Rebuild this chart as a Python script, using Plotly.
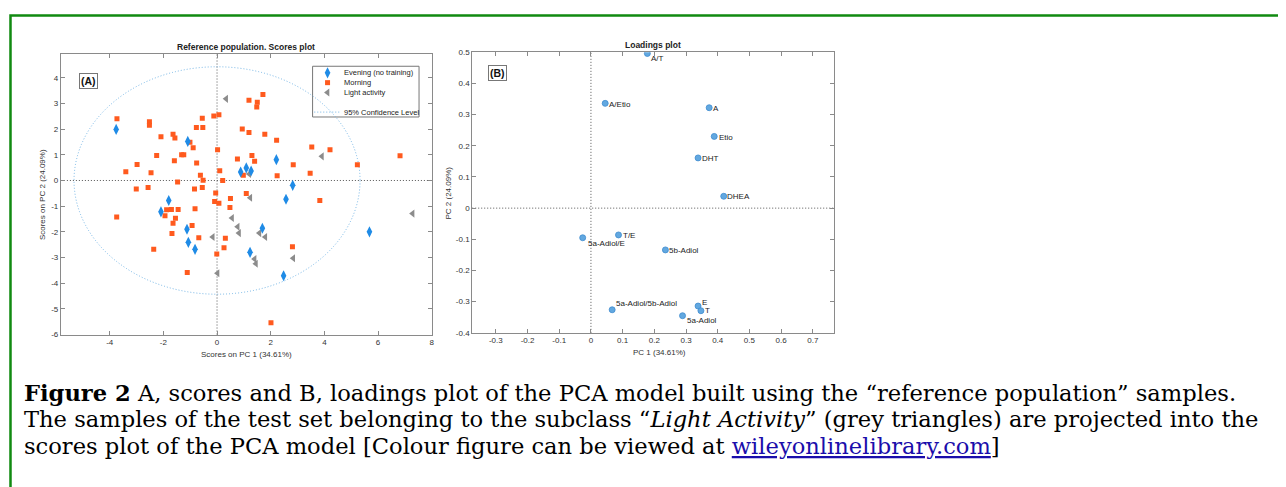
import plotly.graph_objects as go

# page is rendered inside the default 8px body margin
OFF = 8
FW, FH = 1278, 479

# ---------------- Scores plot data (PC1, PC2) ----------------
evening_pc1 = [-3.76, -1.09, -1.80, -2.09, -1.12, -1.07, -0.82, 0.88, 1.09, 1.27,
               2.21, 2.82, 2.57, 1.69, 1.23, 2.48, 5.68]
evening_pc2 = [1.99, 1.52, -0.78, -1.22, -1.90, -2.41, -2.68, 0.33, 0.49, 0.37,
               0.81, -0.19, -0.73, -1.86, -2.80, -3.71, -2.00]

morning_pc1 = [-3.73, -2.52, -2.52, -2.09, -1.64, -1.57, -1.01, -0.89, -0.77, -0.55,
               -0.53, -0.12, 0.07, 0.02, -2.25, -1.32, -1.24, -1.59, -0.76, -2.98,
               -3.40, -2.46, -0.62, -0.52, -1.47, 0.10, 0.21, -3.01, -2.57, -0.84,
               -0.55, -0.05, -0.09, 0.07, 0.50, 0.48, -3.74, -1.88, -1.70, -1.45,
               -0.82, -1.94, -1.55, -1.64, -1.68, -0.93, -0.68, 0.31, 0.26, -0.01,
               -2.36, -1.11, 2.01, 0.94, 1.19, 1.50, 1.71, 1.48, 1.19, 1.78,
               2.22, 0.76, 1.30, 1.40, 0.98, 2.24, 2.84, 1.09, 3.53, 4.21,
               3.47, 5.23, 6.82, 3.83, 2.81]
morning_pc2 = [2.41, 2.29, 2.15, 1.70, 1.80, 1.66, 1.49, 1.28, 2.06, 2.42,
               2.06, 2.51, 2.56, 1.20, 0.97, 1.00, 1.00, 0.77, 0.68, 0.62,
               0.34, 0.30, 0.20, 0.01, -0.06, 0.38, 0.00, -0.33, -0.27, -0.33,
               -0.27, -0.49, -0.82, -0.89, -0.70, -1.05, -1.42, -1.14, -1.13, -1.13,
               -1.10, -1.37, -1.47, -1.67, -2.06, -1.75, -2.23, -2.25, -2.62, -2.86,
               -2.68, -3.58, -5.54, 2.01, 3.13, 3.05, 3.35, 2.86, 1.87, 1.80,
               1.57, 0.84, 0.97, 0.75, 0.20, 0.18, 0.61, -0.51, 1.30, 1.20,
               0.28, 0.61, 0.96, -0.78, -2.58]

light_pc1 = [0.34, 3.91, 1.20, 1.24, 0.56, 0.77, 0.82, -0.16, 1.58, 1.80,
             1.40, 1.45, 2.84, 0.02, 7.29]
light_pc2 = [3.18, 0.94, 0.25, -0.67, -1.46, -1.80, -2.05, -2.20, -2.05, -2.20,
             -3.06, -3.24, -3.03, -3.61, -1.29]

conf_semi_pc1 = 5.33
conf_semi_pc2 = 4.43

# ---------------- Loadings plot data ----------------
loading_names = ["A/T", "A/Etio", "A", "Etio", "DHT", "DHEA", "T/E", "5a-Adiol/E",
                 "5b-Adiol", "5a-Adiol/5b-Adiol", "E", "T", "5a-Adiol"]
loading_pc1 = [0.178, 0.045, 0.373, 0.389, 0.338, 0.419, 0.087, -0.026,
               0.235, 0.067, 0.338, 0.347, 0.289]
loading_pc2 = [0.496, 0.336, 0.322, 0.230, 0.161, 0.038, -0.086, -0.095,
               -0.134, -0.326, -0.314, -0.329, -0.345]
# label offsets from the point, in pixels (right, down)
label_dx = [2.5, 3, 3, 3.5, 2.5, 2.5, 3, 4, 2.5, 2.5, 3, 3.5, 3]
label_dy = [5.5, 0.7, 1, 0.7, 0.5, 0.7, 0.3, 6, 0.3, -6.7, -4, 0, 4.5]

# ---------------- Tick labels ----------------
score_xticks = [-4, -2, 0, 2, 4, 6, 8]
score_xlabels = ["-4", "-2", "0", "2", "4", "6", "8"]
score_yticks = [-6, -5, -4, -3, -2, -1, 0, 1, 2, 3, 4]
score_ylabels = ["-6", "-5", "-4", "-3", "-2", "-1", "0", "1", "2", "3", "4"]
load_xticks = [-0.3, -0.2, -0.1, 0, 0.1, 0.2, 0.3, 0.4, 0.5, 0.6, 0.7]
load_xlabels = ["-0.3", "-0.2", "-0.1", "0", "0.1", "0.2", "0.3", "0.4", "0.5", "0.6", "0.7"]
load_yticks = [-0.4, -0.3, -0.2, -0.1, 0, 0.1, 0.2, 0.3, 0.4, 0.5]
load_ylabels = ["-0.4", "-0.3", "-0.2", "-0.1", "0", "0.1", "0.2", "0.3", "0.4", "0.5"]

legend_labels = ["Evening (no training)", "Morning", "Light activity", "95% Confidence Level"]

# ---------------- Styling ----------------
FONT = "Liberation Sans, Arial, sans-serif"
SERIF = "DejaVu Serif, Georgia, serif"
BLUE = "#1f8be6"
ORANGE = "#ff5a1e"
GREY = "#8c8c8c"
ELLIPSE = "#74b4e4"
AXC = "#8a8a8a"
FINE_DOT = "1px,2px"


def px(x):
    """page pixel x -> paper fraction"""
    return (x - OFF) / FW


def py(y):
    """page pixel y -> paper fraction"""
    return 1 - (y - OFF) / FH


fig = go.Figure()

# scores traces
fig.add_trace(go.Scatter(x=morning_pc1, y=morning_pc2, mode="markers", name=legend_labels[1],
                         marker=dict(symbol="square", size=5, color=ORANGE, line=dict(width=0)),
                         xaxis="x", yaxis="y", showlegend=False))
fig.add_trace(go.Scatter(x=light_pc1, y=light_pc2, mode="markers", name=legend_labels[2],
                         marker=dict(symbol="triangle-left", size=7, color=GREY, line=dict(width=0)),
                         xaxis="x", yaxis="y", showlegend=False))
fig.add_trace(go.Scatter(x=evening_pc1, y=evening_pc2, mode="markers", name=legend_labels[0],
                         marker=dict(symbol="diamond-tall", size=8, color=BLUE, line=dict(width=0)),
                         xaxis="x", yaxis="y", showlegend=False))

# loadings trace
fig.add_trace(go.Scatter(x=loading_pc1, y=loading_pc2, mode="markers", text=loading_names,
                         marker=dict(symbol="circle", size=6, color="#62a8e0",
                                     line=dict(width=0.8, color="#3f8ccf")),
                         xaxis="x2", yaxis="y2", showlegend=False))

# manual legend samples on a page-pixel overlay axis
leg_sym_x = 328.3
leg_rows = [70, 80, 90, 110]
fig.add_trace(go.Scatter(x=[leg_sym_x], y=[leg_rows[0]], mode="markers", xaxis="x3", yaxis="y3",
                         marker=dict(symbol="diamond-tall", size=8, color=BLUE), showlegend=False,
                         hoverinfo="skip"))
fig.add_trace(go.Scatter(x=[leg_sym_x], y=[leg_rows[1]], mode="markers", xaxis="x3", yaxis="y3",
                         marker=dict(symbol="square", size=5, color=ORANGE), showlegend=False,
                         hoverinfo="skip"))
fig.add_trace(go.Scatter(x=[leg_sym_x], y=[leg_rows[2]], mode="markers", xaxis="x3", yaxis="y3",
                         marker=dict(symbol="triangle-left", size=7, color=GREY), showlegend=False,
                         hoverinfo="skip"))
fig.add_trace(go.Scatter(x=[315, 340], y=[leg_rows[3], leg_rows[3]], mode="lines", xaxis="x3", yaxis="y3",
                         line=dict(color=ELLIPSE, width=1, dash=FINE_DOT), showlegend=False,
                         hoverinfo="skip"))

axis_common = dict(showline=True, linecolor=AXC, linewidth=1, mirror="ticks", ticks="inside",
                   ticklen=4, tickcolor=AXC, showgrid=False, zeroline=False,
                   tickfont=dict(family=FONT, size=8, color="#333"), fixedrange=True)

fig.update_layout(
    width=FW, height=FH,
    margin=dict(l=0, r=0, t=0, b=0),
    paper_bgcolor="white", plot_bgcolor="rgba(0,0,0,0)",
    showlegend=False,
    xaxis=dict(domain=[px(61), px(432.7)], range=[-5.82, 8], tickvals=score_xticks,
               ticktext=score_xlabels, anchor="y", **axis_common),
    yaxis=dict(domain=[py(336.7), py(51)], range=[-6, 4.92], tickvals=score_yticks,
               ticktext=score_ylabels, anchor="x", **axis_common),
    xaxis2=dict(domain=[px(473.3), px(835.5)], range=[-0.3746, 0.7655], tickvals=load_xticks,
                ticktext=load_xlabels, anchor="y2", **axis_common),
    yaxis2=dict(domain=[py(335), py(49)], range=[-0.4, 0.5], tickvals=load_yticks,
                ticktext=load_ylabels, anchor="x2", **axis_common),
    xaxis3=dict(domain=[0, 1], range=[OFF, OFF + FW], visible=False, anchor="y3", fixedrange=True),
    yaxis3=dict(domain=[0, 1], range=[OFF + FH, OFF], visible=False, anchor="x3", fixedrange=True),
)

shapes = []
# green frame
shapes.append(dict(type="rect", xref="paper", yref="paper", x0=px(10.5), x1=px(1300),
                   y0=py(500), y1=py(11.5), line=dict(color="#118a11", width=2.5),
                   fillcolor="rgba(0,0,0,0)", layer="below"))
# confidence ellipse
shapes.append(dict(type="circle", xref="x", yref="y", x0=-conf_semi_pc1, x1=conf_semi_pc1,
                   y0=-conf_semi_pc2, y1=conf_semi_pc2,
                   line=dict(color=ELLIPSE, width=1, dash=FINE_DOT), layer="below"))
# zero lines
for xr, yr in (("x", "y"), ("x2", "y2")):
    shapes.append(dict(type="line", xref=xr, yref=yr + " domain", x0=0, x1=0, y0=0, y1=1,
                       line=dict(color="#555", width=1, dash=FINE_DOT), layer="below"))
    shapes.append(dict(type="line", xref=xr + " domain", yref=yr, x0=0, x1=1, y0=0, y1=0,
                       line=dict(color="#555", width=1, dash=FINE_DOT), layer="below"))
# legend box
shapes.append(dict(type="rect", xref="paper", yref="paper", x0=px(313.3), x1=px(420),
                   y0=py(115), y1=py(63.3), line=dict(color="#777", width=1),
                   fillcolor="white", layer="below"))
fig.update_layout(shapes=shapes)

ann = []
# loading labels (placed at the data points)
for name, lx, ly, dx, dy in zip(loading_names, loading_pc1, loading_pc2, label_dx, label_dy):
    ann.append(dict(text=name, x=lx, y=ly, xref="x2", yref="y2", xanchor="left",
                    xshift=dx, yshift=-dy, borderpad=0,
                    font=dict(family=FONT, size=8, color="#222")))
# titles
ann.append(dict(text="<b>Reference population. Scores plot</b>", x=px(247), y=py(44),
                font=dict(family=FONT, size=8.5, color="#222")))
ann.append(dict(text="<b>Loadings plot</b>", x=px(655), y=py(42),
                font=dict(family=FONT, size=8.5, color="#222")))
# axis titles
ann.append(dict(text="Scores on PC 1 (34.61%)", x=px(247.5), y=py(357),
                font=dict(family=FONT, size=8, color="#333")))
ann.append(dict(text="Scores on PC 2 (24.09%)", x=px(42.7), y=py(194), textangle=-90,
                font=dict(family=FONT, size=8, color="#333")))
ann.append(dict(text="PC 1 (34.61%)", x=px(660.8), y=py(355),
                font=dict(family=FONT, size=8, color="#333")))
ann.append(dict(text="PC 2 (24.09%)", x=px(450), y=py(192), textangle=-90,
                font=dict(family=FONT, size=8, color="#333")))
# panel labels
ann.append(dict(text="<b>(A)</b>", x=px(88.3), y=py(78.3), bordercolor="#777", borderwidth=1,
                borderpad=1, bgcolor="white", font=dict(family=FONT, size=10.5, color="#111")))
ann.append(dict(text="<b>(B)</b>", x=px(498.8), y=py(70), bordercolor="#777", borderwidth=1,
                borderpad=1, bgcolor="white", font=dict(family=FONT, size=10.5, color="#111")))
# legend texts
for lab, ry in zip(legend_labels, leg_rows):
    ann.append(dict(text=lab, x=px(342.7), y=py(ry), xanchor="left",
                    font=dict(family=FONT, size=7.5, color="#222")))
# caption
cap = [
    "<b>Figure 2</b> A, scores and B, loadings plot of the PCA model built using the “reference population” samples.",
    "The samples of the test set belonging to the subclass “<i>Light Activity</i>” (grey triangles) are projected into the",
    "scores plot of the PCA model [Colour figure can be viewed at <span style='color:#1a0dab'><u>wileyonlinelibrary.com</u></span>]",
]
for i, line in enumerate(cap):
    ann.append(dict(text=line, x=px(22), y=py(396 + 27 * i), xanchor="left",
                    font=dict(family=SERIF, size=22.6, color="#000")))

for a in ann:
    a.setdefault("xref", "paper")
    a.setdefault("yref", "paper")
    a.setdefault("showarrow", False)
    a.setdefault("xanchor", "center")
    a.setdefault("yanchor", "middle")
fig.update_layout(annotations=ann)

fig.write_html("out.html")
